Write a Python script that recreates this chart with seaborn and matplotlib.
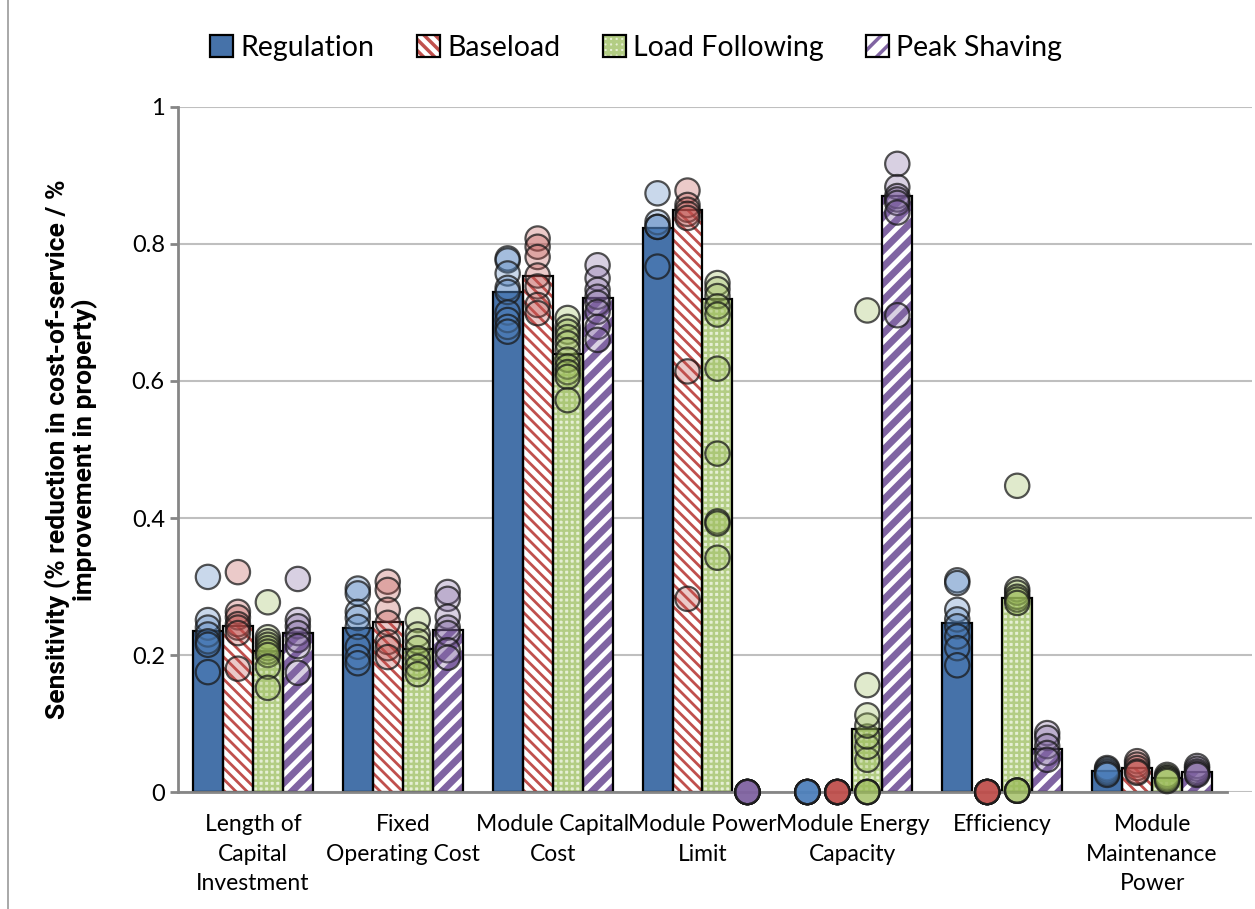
# Sensitivity chart: bars per case + scenario dots
import numpy as np
import pandas as pd
import matplotlib.pyplot as plt
import seaborn as sns
from matplotlib.patches import Patch, Rectangle
from matplotlib.lines import Line2D

categories = ['Length of\nCapital\nInvestment', 'Fixed\nOperating Cost', 'Module Capital\nCost',
              'Module Power\nLimit', 'Module Energy\nCapacity', 'Efficiency',
              'Module\nMaintenance\nPower']
cases = ['Regulation', 'Baseload', 'Load Following', 'Peak Shaving']

# bar heights, one value per category
bar_regulation = [0.235, 0.240, 0.730, 0.823, 0.0, 0.247, 0.030]
bar_baseload = [0.242, 0.248, 0.753, 0.850, 0.0, 0.0, 0.035]
bar_load_following = [0.206, 0.209, 0.639, 0.720, 0.092, 0.283, 0.020]
bar_peak_shaving = [0.232, 0.236, 0.721, 0.0, 0.870, 0.063, 0.029]

# individual scenario results (dots)
dots_regulation = [
    [0.314, 0.251, 0.24, 0.23, 0.22, 0.215, 0.175],
    [0.297, 0.29, 0.263, 0.254, 0.241, 0.212, 0.197, 0.188],
    [0.779, 0.776, 0.757, 0.736, 0.73, 0.70, 0.689, 0.679, 0.672],
    [0.874, 0.832, 0.825, 0.825, 0.767],
    [0, 0, 0, 0, 0, 0, 0, 0],
    [0.309, 0.305, 0.266, 0.252, 0.242, 0.227, 0.21, 0.185],
    [0.035, 0.033, 0.03, 0.027, 0.025],
]
dots_baseload = [
    [0.321, 0.263, 0.255, 0.245, 0.24, 0.232, 0.18],
    [0.307, 0.295, 0.266, 0.247, 0.219, 0.21, 0.197],
    [0.808, 0.796, 0.781, 0.754, 0.738, 0.711, 0.699],
    [0.878, 0.857, 0.85, 0.844, 0.838, 0.614, 0.282],
    [0, 0, 0, 0, 0, 0, 0, 0],
    [0, 0, 0, 0, 0, 0, 0, 0],
    [0.045, 0.04, 0.035, 0.03, 0.028],
]
dots_load_following = [
    [0.277, 0.226, 0.22, 0.215, 0.21, 0.205, 0.2, 0.183, 0.152],
    [0.251, 0.23, 0.22, 0.21, 0.195, 0.183, 0.172],
    [0.692, 0.679, 0.672, 0.664, 0.655, 0.645, 0.631, 0.621, 0.613, 0.606, 0.572],
    [0.743, 0.734, 0.724, 0.709, 0.697, 0.618, 0.494, 0.395, 0.392, 0.342],
    [0, 0, 0, 0, 0.047, 0.066, 0.081, 0.097, 0.112, 0.156, 0.703],
    [0.447, 0.296, 0.291, 0.285, 0.281, 0.276, 0.002, 0.002, 0.002, 0.002],
    [0.025, 0.022, 0.02, 0.018, 0.016],
]
dots_peak_shaving = [
    [0.311, 0.251, 0.242, 0.232, 0.222, 0.213, 0.174],
    [0.292, 0.282, 0.256, 0.24, 0.232, 0.207, 0.196],
    [0.769, 0.750, 0.733, 0.723, 0.714, 0.701, 0.679, 0.66],
    [0, 0, 0, 0, 0, 0, 0, 0],
    [0.917, 0.883, 0.87, 0.865, 0.86, 0.846, 0.696],
    [0.086, 0.079, 0.067, 0.057, 0.047],
    [0.038, 0.034, 0.03, 0.027, 0.025],
]

colors = ['#4F81BD', '#C0504D', '#9BBB59', '#8064A2']
bar_face = ['#4672A9', 'white', '#e6efd5', 'white']
bar_hatch = [None, '\\\\\\', '+++', '//']
hatch_col = [None, '#C0504D', '#b3cd84', '#8064A2']
hatch_lw = [0, 2.0, 1.8, 5.0]

# long tables for seaborn
bars_df = pd.DataFrame({
    'category': categories * 4,
    'case': np.repeat(cases, len(categories)),
    'value': bar_regulation + bar_baseload + bar_load_following + bar_peak_shaving,
})
rows = []
for case, dots in zip(cases, [dots_regulation, dots_baseload, dots_load_following, dots_peak_shaving]):
    for cat, vals in zip(categories, dots):
        for v in vals:
            rows.append((cat, case, v))
dots_df = pd.DataFrame(rows, columns=['category', 'case', 'value'])

sns.set_theme(style='white')
plt.rcParams['font.family'] = ['Lato', 'DejaVu Sans']
plt.rcParams['text.color'] = 'black'
plt.rcParams['axes.labelcolor'] = 'black'
plt.rcParams['hatch.linewidth'] = 2.5

fig, ax = plt.subplots(figsize=(12.55, 9.09), dpi=100)
fig.subplots_adjust(left=0.1418, right=0.998, bottom=0.1287, top=0.8823)

sns.barplot(data=bars_df, x='category', y='value', hue='case', order=categories,
            hue_order=cases, palette=colors, width=0.8, errorbar=None, legend=False,
            ax=ax, zorder=2)

for i, cont in enumerate(ax.containers):
    for p in cont.patches:
        p.set_facecolor(bar_face[i])
        p.set_linewidth(0)
        if bar_hatch[i]:
            p.set_hatch(bar_hatch[i])
            p.set_edgecolor(hatch_col[i])
            if hasattr(p, 'set_hatch_linewidth'):
                p.set_hatch_linewidth(hatch_lw[i])
        h = p.get_height()
        if h > 0:
            ax.add_patch(Rectangle(p.get_xy(), p.get_width(), h, fill=False,
                                   edgecolor='black', linewidth=1.6, zorder=2.5))

sns.stripplot(data=dots_df, x='category', y='value', hue='case', order=categories,
              hue_order=cases, palette=colors, dodge=True, jitter=False, size=17.5,
              linewidth=1.6, edgecolor='black', legend=False, ax=ax, zorder=3)

for coll in ax.collections:
    fc = coll.get_facecolor()
    fc[:, 3] = 0.3
    coll.set_facecolor(fc)
    coll.set_edgecolor((0.1, 0.1, 0.1, 0.75))
    coll.set_clip_on(False)

ax.set_xlim(-0.5, 6.67)
ax.set_ylim(0, 1)
yt = np.arange(0, 1.01, 0.2)
ax.set_yticks(yt)
ax.set_yticklabels([f'{v:g}' for v in yt])
ax.yaxis.grid(True, color='#BFBFBF', linewidth=1.5)
ax.set_axisbelow(True)
for s in ['top', 'right']:
    ax.spines[s].set_visible(False)
for s in ['left', 'bottom']:
    ax.spines[s].set_color('#868686')
    ax.spines[s].set_linewidth(2)
ax.spines['bottom'].set_bounds(-0.5, 6.5)

ax.set_xticks(range(len(categories)))
ax.set_xticklabels(categories, fontsize=16.5, linespacing=1.5)
ax.set_xticks(np.arange(-0.5, 7, 1), minor=True)
ax.tick_params(axis='x', which='major', length=0, pad=16, labelcolor='black')
ax.tick_params(axis='x', which='minor', length=6, width=2, color='#868686', direction='out')
ax.tick_params(axis='y', length=6, width=2, color='#868686', direction='out',
               labelsize=17, left=True, labelcolor='black')
ax.set_xlabel('')
ax.set_ylabel('Sensitivity (% reduction in cost-of-service / %\nimprovement in property)',
              fontsize=19, fontweight='bold', family=['Roboto', 'DejaVu Sans'],
              linespacing=1.05)
ax.yaxis.set_label_coords(-0.074, 0.5)

handles = []
for i in range(4):
    fill = Patch(facecolor=bar_face[i], hatch=bar_hatch[i],
                 edgecolor=hatch_col[i] if hatch_col[i] else bar_face[i], linewidth=0)
    edge = Patch(fill=False, edgecolor='black', linewidth=1.6)
    handles.append((fill, edge))
fig.legend(handles, cases, loc='center', bbox_to_anchor=(0.507, 0.947), ncol=4,
           frameon=False, fontsize=20.5, handlelength=0.8, handleheight=0.8,
           handletextpad=0.25, columnspacing=1.5)

fig.add_artist(Line2D([0.0065, 0.0065], [0, 1], transform=fig.transFigure,
                      color='#9a9a9a', linewidth=1.2))

fig.savefig('out.png', dpi=100)
